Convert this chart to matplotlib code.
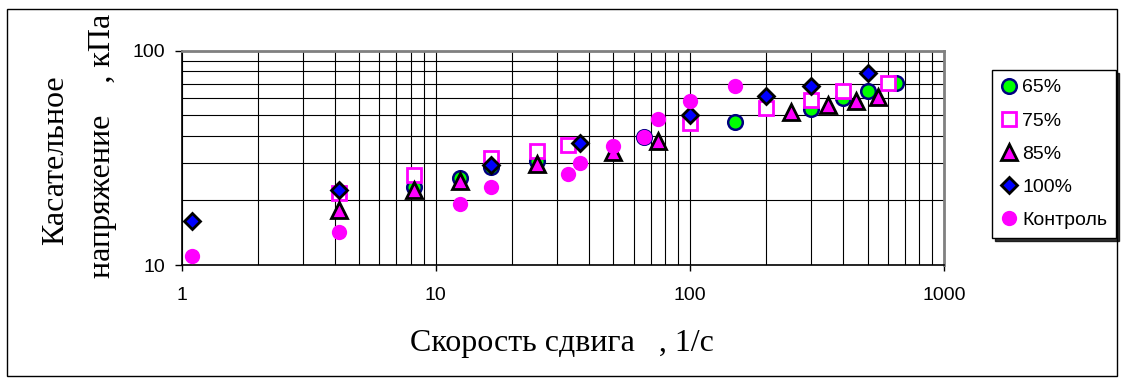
import numpy as np
import matplotlib
matplotlib.use('Agg')
import matplotlib.pyplot as plt
from matplotlib.patches import Rectangle
from matplotlib.ticker import NullFormatter

# данные
x65 = [8.2, 12.4, 16.5, 25, 66, 150, 300, 400, 500, 650]
y65 = [23.0, 25.4, 28.7, 30.5, 39.5, 46.6, 53.6, 60.0, 64.9, 70.5]

x75 = [4.15, 8.2, 16.5, 25, 33, 100, 200, 300, 400, 600]
y75 = [21.6, 26.2, 31.5, 34.0, 36.3, 45.8, 54.2, 58.9, 64.9, 70.9]

x85 = [4.15, 8.2, 12.4, 25, 50, 75, 250, 350, 450, 550]
y85 = [18.0, 22.4, 24.7, 29.6, 33.8, 38.0, 52.0, 55.8, 58.4, 60.6]

x100 = [1.1, 4.15, 16.5, 37, 100, 200, 300, 500]
y100 = [16.1, 22.4, 29.3, 37.2, 50.0, 61.5, 68.4, 78.5]

xk = [1.1, 4.15, 12.4, 16.5, 33, 37, 50, 66, 75, 100, 150]
yk = [11.0, 14.2, 19.3, 23.0, 26.6, 30.0, 36.0, 39.7, 47.9, 58.4, 68.7]

sans = ['Liberation Sans', 'DejaVu Sans']
serif = ['Liberation Serif', 'DejaVu Serif']

fig = plt.figure(figsize=(11.23, 3.86), dpi=100)
ax = fig.add_axes([181.7/1123, 1-265/386, (944-181.7)/1123, (265-50.7)/386])

ms = 10.5
ax.plot(x65, y65, 'o', ms=ms, mfc='#00ff00', mec='#000080', mew=1.8, label='65%', zorder=3)
ax.plot(x75, y75, 's', ms=ms-1, mfc='white', mec='#ff00ff', mew=2, label='75%', zorder=3)
ax.plot(x85, y85, '^', ms=ms+0.5, mfc='#ff00ff', mec='black', mew=2, label='85%', zorder=3)
ax.plot(x100, y100, 'D', ms=ms-2, mfc='#0000ff', mec='black', mew=2, label='100%', zorder=3)
ax.plot(xk, yk, 'o', ms=ms+0.5, mfc='#ff00ff', mec='#ff00ff', mew=0, label='Контроль', zorder=3)

ax.set_xscale('log')
ax.set_yscale('log')
ax.set_xlim(1, 1000)
ax.set_ylim(10, 100)
ax.set_xticks([1, 10, 100, 1000])
ax.set_xticklabels(['1', '10', '100', '1000'])
ax.set_yticks([10, 100])
ax.set_yticklabels(['10', '100'])
ax.minorticks_on()
ax.xaxis.set_minor_formatter(NullFormatter())
ax.yaxis.set_minor_formatter(NullFormatter())
ax.tick_params(which='minor', length=0)
ax.tick_params(which='major', direction='out', length=5, width=1, labelsize=14, pad=7)
ax.tick_params(axis='x', which='major', length=4, pad=12)
for t in ax.get_xticklabels() + ax.get_yticklabels():
    t.set_family(sans)
ax.grid(True, which='both', color='black', lw=0.8)
ax.set_axisbelow(True)

for s in ['top', 'right']:
    ax.spines[s].set_color('#808080')
    ax.spines[s].set_linewidth(2)
for s in ['left', 'bottom']:
    ax.spines[s].set_color('black')
    ax.spines[s].set_linewidth(1.2)

fig.text(562/1123, 1-343/386, 'Скорость сдвига   , 1/с', family=serif, fontsize=23,
         ha='center', va='center')
fig.text(56/1123, 1-160/386, 'Касательное', family=serif, fontsize=23,
         ha='center', va='center', rotation=90)
fig.text(103/1123, 1-146/386, 'напряжение    , кПа', family=serif, fontsize=23,
         ha='center', va='center', rotation=90)

leg = ax.legend(loc='upper left', bbox_to_anchor=(992/1123, 1-70/386),
                bbox_transform=fig.transFigure, prop={'family': sans, 'size': 14},
                frameon=True, fancybox=False,
                shadow={'ox': 2, 'oy': -2, 'color': 'black', 'alpha': 0.8},
                handletextpad=0.3, handlelength=0.8, labelspacing=0.8,
                borderpad=0.45, borderaxespad=0)
leg.get_frame().set_edgecolor('black')
leg.get_frame().set_linewidth(1)

# внешняя рамка
fig.patches.append(Rectangle((7/1123, 1-376/386), (1117-7)/1123, (376-9)/386,
                             transform=fig.transFigure, fill=False, ec='black', lw=1))

fig.savefig('out.png', dpi=100)
